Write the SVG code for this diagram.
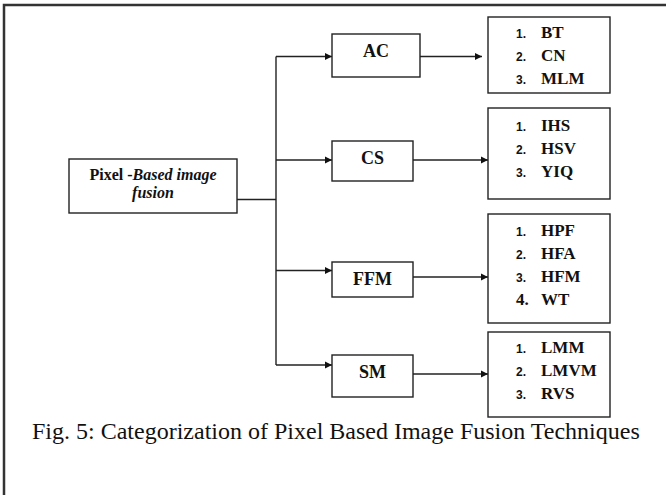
<svg xmlns="http://www.w3.org/2000/svg" width="666" height="495" viewBox="0 0 666 495">
<style>
.box{fill:#fff;stroke:#222;stroke-width:1.4}
.ln{fill:none;stroke:#222;stroke-width:1.4}
.t{font-family:"Liberation Serif","Times New Roman",serif;font-weight:bold;fill:#111}
.c{font-size:18px;text-anchor:middle}
.n{font-family:"Liberation Sans",Arial,sans-serif;font-weight:bold;font-size:12px;fill:#111}
.i{font-size:17px}
.cap{font-family:"Liberation Serif","Times New Roman",serif;font-size:24px;fill:#111}
</style>
<defs>
<marker id="ah" markerWidth="8" markerHeight="8" refX="7" refY="4" orient="auto" markerUnits="userSpaceOnUse">
<path d="M0,0.5 L7,4 L0,7.5 Z" fill="#111"/>
</marker>
</defs>
<path d="M4,495 V5 H666" fill="none" stroke="#333" stroke-width="2.5"/>
<g id="connectors">
<path class="ln" d="M237,199.5 H276"/>
<path class="ln" d="M276,56.5 V365"/>
<path class="ln" d="M276,56.5 H332" marker-end="url(#ah)"/>
<path class="ln" d="M276,160 H332" marker-end="url(#ah)"/>
<path class="ln" d="M276,270.5 H332" marker-end="url(#ah)"/>
<path class="ln" d="M276,365 H332" marker-end="url(#ah)"/>
<path class="ln" d="M420,56.5 H482" marker-end="url(#ah)"/>
<path class="ln" d="M413,160 H488" marker-end="url(#ah)"/>
<path class="ln" d="M413,277 H488" marker-end="url(#ah)"/>
<path class="ln" d="M413,374 H488" marker-end="url(#ah)"/>
</g>
<g id="root">
<rect class="box" x="69" y="159" width="168" height="54"/>
<text class="t" x="153" y="180" font-size="16" text-anchor="middle">Pixel -<tspan font-style="italic">Based image</tspan></text>
<text class="t" x="153" y="198" font-size="16" text-anchor="middle" font-style="italic">fusion</text>
</g>
<g id="ac">
<rect class="box" x="332" y="34" width="88" height="43"/>
<text class="t c" x="376" y="57">AC</text>
</g>
<g id="cs">
<rect class="box" x="332" y="141" width="81" height="40"/>
<text class="t c" x="372.5" y="164">CS</text>
</g>
<g id="ffm">
<rect class="box" x="332" y="262" width="81" height="35"/>
<text class="t c" x="372.5" y="285">FFM</text>
</g>
<g id="sm">
<rect class="box" x="332" y="355" width="81" height="42"/>
<text class="t c" x="372.5" y="378">SM</text>
</g>
<g id="list-ac">
<rect class="box" x="488" y="17" width="122" height="76"/>
<text class="n" x="516" y="38">1.</text><text class="t i" x="541" y="38">BT</text>
<text class="n" x="516" y="61">2.</text><text class="t i" x="541" y="61">CN</text>
<text class="n" x="516" y="84">3.</text><text class="t i" x="541" y="84">MLM</text>
</g>
<g id="list-cs">
<rect class="box" x="488" y="108" width="122" height="91"/>
<text class="n" x="516" y="131">1.</text><text class="t i" x="541" y="131">IHS</text>
<text class="n" x="516" y="154">2.</text><text class="t i" x="541" y="154">HSV</text>
<text class="n" x="516" y="177">3.</text><text class="t i" x="541" y="177">YIQ</text>
</g>
<g id="list-ffm">
<rect class="box" x="488" y="214" width="122" height="109"/>
<text class="n" x="516" y="236">1.</text><text class="t i" x="541" y="236">HPF</text>
<text class="n" x="516" y="259">2.</text><text class="t i" x="541" y="259">HFA</text>
<text class="n" x="516" y="282">3.</text><text class="t i" x="541" y="282">HFM</text>
<text class="t i" x="516" y="305">4.</text><text class="t i" x="541" y="305">WT</text>
</g>
<g id="list-sm">
<rect class="box" x="488" y="332" width="122" height="85"/>
<text class="n" x="516" y="353">1.</text><text class="t i" x="541" y="353">LMM</text>
<text class="n" x="516" y="376">2.</text><text class="t i" x="541" y="376">LMVM</text>
<text class="n" x="516" y="399">3.</text><text class="t i" x="541" y="399">RVS</text>
</g>
<text class="cap" x="32" y="439">Fig. 5: Categorization of Pixel Based Image Fusion Techniques</text>
</svg>
